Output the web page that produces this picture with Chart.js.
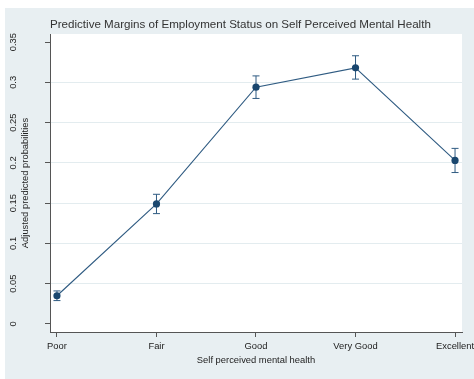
<!DOCTYPE html>
<html>
<head>
<meta charset="utf-8">
<title>Predictive Margins</title>
<script src="https://cdn.jsdelivr.net/npm/chart.js@4.4.0/dist/chart.umd.min.js"></script>
<style>
  html, body { margin: 0; padding: 0; background: #ffffff; }
  #wrap { position: absolute; left: 5px; top: 8px; }
</style>
</head>
<body>
<div id="wrap"><canvas id="marginsChart" width="469" height="371"></canvas></div>
<script>
const categories = ['Poor', 'Fair', 'Good', 'Very Good', 'Excellent'];
const margins = [0.035, 0.149, 0.294, 0.318, 0.203];
const ciLower = [0.029, 0.137, 0.280, 0.304, 0.188];
const ciUpper = [0.041, 0.161, 0.308, 0.333, 0.218];
const yTicks = [0, 0.05, 0.1, 0.15, 0.2, 0.25, 0.3, 0.35];

const NAVY = '#1a476f';
const LINE = '#2f5b82';
const FONT = "'Liberation Sans', Arial, sans-serif";
const AXIS = '#555555';

// light graph region behind everything, white plot region inside the axes
const regionFill = {
    id: 'regionFill',
    beforeDraw(chart) {
        const { ctx, chartArea: a } = chart;
        ctx.save();
        ctx.fillStyle = '#e8eff2';
        ctx.fillRect(0, 0, chart.width, chart.height);
        ctx.fillStyle = '#ffffff';
        ctx.fillRect(a.left, a.top, a.right - a.left, a.bottom - a.top);
        ctx.restore();
    }
};

// 95% CI capped spikes
const ciBars = {
    id: 'ciBars',
    beforeDatasetsDraw(chart) {
        const { ctx, scales: { x, y } } = chart;
        ctx.save();
        ctx.strokeStyle = LINE;
        ctx.lineWidth = 1;
        categories.forEach((c, i) => {
            const px = x.getPixelForValue(i);
            const top = y.getPixelForValue(ciUpper[i]);
            const bot = y.getPixelForValue(ciLower[i]);
            ctx.beginPath();
            ctx.moveTo(px, top); ctx.lineTo(px, bot);
            ctx.moveTo(px - 3.5, top); ctx.lineTo(px + 3.5, top);
            ctx.moveTo(px - 3.5, bot); ctx.lineTo(px + 3.5, bot);
            ctx.stroke();
        });
        ctx.restore();
    }
};

new Chart(document.getElementById('marginsChart'), {
    type: 'line',
    data: {
        datasets: [{
            data: margins.map((v, i) => ({ x: i, y: v })),
            borderColor: LINE,
            borderWidth: 1.1,
            backgroundColor: NAVY,
            pointRadius: 3.6,
            pointBorderWidth: 0,
            pointBackgroundColor: NAVY,
            tension: 0
        }]
    },
    options: {
        responsive: false,
        animation: false,
        layout: { padding: { left: 0, right: 12, top: 0, bottom: 0 } },
        plugins: {
            legend: { display: false },
            tooltip: { enabled: false },
            title: {
                display: true,
                text: 'Predictive Margins of Employment Status on Self Perceived Mental Health',
                align: 'start',
                fullSize: false,
                color: '#333333',
                font: { family: FONT, size: 11.6, weight: 'normal' },
                padding: { top: 10, bottom: 2.1 }
            }
        },
        scales: {
            x: {
                type: 'linear',
                min: -0.07,
                max: 4.07,
                afterBuildTicks: s => { s.ticks = categories.map((c, i) => ({ value: i })); },
                afterFit: s => { s.height = 47; s.paddingLeft = 0; s.paddingRight = 0; },
                ticks: {
                    callback: v => categories[v],
                    color: '#222222',
                    font: { family: FONT, size: 9.4 },
                    padding: 4,
                    maxRotation: 0,
                    autoSkip: false
                },
                grid: { color: 'transparent', tickColor: AXIS, tickLength: 5, drawOnChartArea: false },
                border: { color: AXIS, width: 1 },
                title: {
                    display: true,
                    text: 'Self perceived mental health',
                    color: '#222222',
                    font: { family: FONT, size: 9.4 },
                    padding: { top: 0, bottom: 13.4 }
                }
            },
            y: {
                min: -0.01,
                max: 0.36,
                afterBuildTicks: s => { s.ticks = yTicks.map(v => ({ value: v })); },
                afterFit: s => { s.width = 45; s.paddingTop = 0; s.paddingBottom = 0; },
                ticks: {
                    callback: v => String(v),
                    color: '#222222',
                    font: { family: FONT, size: 9.4 },
                    minRotation: 90,
                    maxRotation: 90,
                    crossAlign: 'center',
                    padding: 22.5,
                    autoSkip: false
                },
                grid: {
                    color: c => (c.tick && (c.tick.value === 0 || c.tick.value === 0.35)) ? 'transparent' : '#e3ecef',
                    tickColor: AXIS,
                    tickLength: 5
                },
                border: { color: AXIS, width: 1 },
                title: {
                    display: true,
                    text: 'Adjusted predicted probabilities',
                    color: '#222222',
                    font: { family: FONT, size: 9.4 },
                    padding: { top: 14.4, bottom: 0 }
                }
            }
        }
    },
    plugins: [regionFill, ciBars]
});
</script>
</body>
</html>
